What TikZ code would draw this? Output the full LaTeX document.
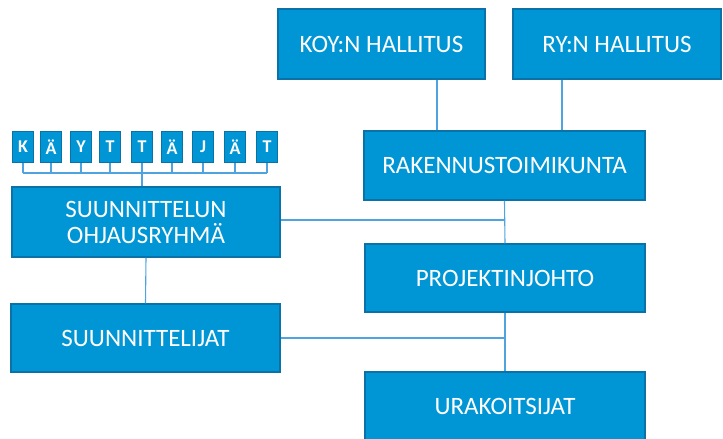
\documentclass[tikz,border=0pt]{standalone}
\usepackage{fontspec}
\setmainfont{Carlito}
\definecolor{boxfill}{HTML}{0096D6}
\definecolor{boxedge}{HTML}{0B72A8}
\definecolor{linkcol}{HTML}{4FA3DE}
\begin{document}
\begin{tikzpicture}[x=1pt,y=-1pt,
  bigbox/.style={draw=boxedge, line width=1.5pt, fill=boxfill, text=white, inner sep=0pt,
    font=\fontsize{25}{26}\selectfont, align=center},
  letterbox/.style={draw=boxedge, line width=1.5pt, fill=boxfill, text=white, inner sep=0pt,
    minimum width=21pt, minimum height=31pt, font=\bfseries\fontsize{18}{20}\selectfont},
  link/.style={draw=linkcol, line width=1.1pt}]
\useasboundingbox (0,0) rectangle (723,439);
% main boxes
\node[bigbox, minimum width=207pt, minimum height=70pt] (koy) at (381.5,44) {KOY:N HALLITUS};
\node[bigbox, minimum width=208pt, minimum height=70pt] (ry) at (617,44) {RY:N HALLITUS};
\node[bigbox, minimum width=281pt, minimum height=69pt] (rak) at (504.5,165.5) {RAKENNUSTOIMIKUNTA};
\node[bigbox, minimum width=280pt, minimum height=68pt] (proj) at (505,278) {PROJEKTINJOHTO};
\node[bigbox, minimum width=280pt, minimum height=68pt] (urak) at (505,406) {URAKOITSIJAT};
\node[bigbox, minimum width=268pt, minimum height=70pt] (sohj) at (146,222) {SUUNNITTELUN\\OHJAUSRYHMÄ};
\node[bigbox, minimum width=269pt, minimum height=68pt] (suun) at (145.5,338) {SUUNNITTELIJAT};
% letter boxes
\node[letterbox] (k1) at (23,147) {K};
\node[letterbox] (k2) at (51,147) {Ä};
\node[letterbox] (k3) at (81,147) {Y};
\node[letterbox] (k4) at (110,147) {T};
\node[letterbox] (k5) at (142,147) {T};
\node[letterbox] (k6) at (172,147) {Ä};
\node[letterbox] (k7) at (203,147) {J};
\node[letterbox] (k8) at (235,147) {Ä};
\node[letterbox] (k9) at (267,147) {T};
\coordinate (comb) at (0,173);
\coordinate (xa) at (437,0);
\coordinate (xb) at (562,0);
% comb connectors
\foreach \k in {k1,k2,k3,k4,k5,k6,k7,k8,k9}{
  \draw[link] (\k.south) -- (\k.south |- comb);
}
\draw[link] (k1.south |- comb) -- (k9.south |- comb);
\draw[link] (k5.south) -- (k5.south |- sohj.north);
% other connectors
\draw[link] (koy.south -| xa) -- (rak.north -| xa);
\draw[link] (ry.south -| xb) -- (rak.north -| xb);
\draw[link] (rak.south) -- (proj.north);
\draw[link] ([yshift=2pt]sohj.east) -- ([yshift=2pt]sohj.east -| proj.north);
\draw[link] (sohj.south) -- (suun.north);
\draw[link] (proj.south) -- (urak.north);
\draw[link] (suun.east) -- (suun.east -| proj.south);
\end{tikzpicture}
\end{document}
